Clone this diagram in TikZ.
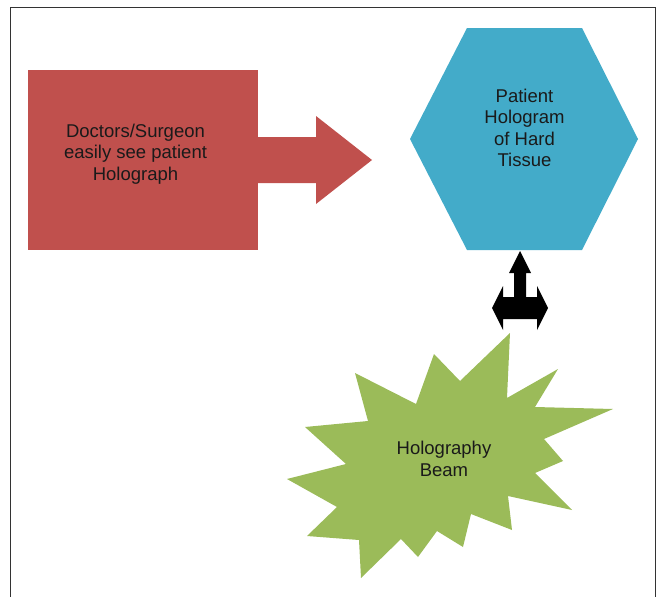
\documentclass[tikz,border=0pt]{standalone}
\usepackage{fontspec}
\setmainfont{Liberation Sans}
\definecolor{docred}{HTML}{C0504D}
\definecolor{holoblue}{HTML}{43ABC9}
\definecolor{beamgreen}{HTML}{9BBB59}
\definecolor{inktext}{HTML}{1A1A1A}
\begin{document}
\begin{tikzpicture}[x=1pt, y=-1pt, every node/.style={align=center, inner sep=0pt, text=inktext, font=\fontsize{18.5}{21.5}\selectfont}]
    \useasboundingbox (0,0) rectangle (657,597);
    \draw[line width=1pt, black!80] (10,597) -- (10,7) -- (655,7) -- (655,597);
    \fill[docred] (28,70) rectangle (258,250);
    \fill[holoblue] (467,28) -- (582,28) -- (638,139) -- (582,250) -- (467,250) -- (410,139) -- cycle;
    \fill[beamgreen] plot coordinates {(510,333) (507,398) (558,369) (535,407) (613,409) (544,439) (563,461) (535,473) (572,510) (508,496) (512,530) (471,514) (463,547) (437,531) (418,557) (401,539) (361,578) (359,540) (307,536) (337,507) (287,479) (346,464) (305,427) (368,421) (355,373) (416,404) (434,354) (460,381)} -- cycle;
    \node (doc) at (135.5,154) {Doctors/Surgeon\\easily see patient\\Holograph};
    \node (holo) at (524.5,128) {Patient\\Hologram\\of Hard\\Tissue};
    \node (beam) at (444,459) {Holography\\Beam};
    \coordinate (docR) at (257,160);
    \coordinate (holoL) at (372,160);
    \coordinate (holoB) at (520,251);
    \coordinate (beamT) at (520,308);
    % block arrows
    \fill[docred] (docR) ++(0,-23) -- ++(59,0) -- ++(0,-21) -- (holoL) -- ++(-56,44) -- ++(0,-21) -- ++(-59,0) -- cycle;
    \fill[black] (holoB) -- ++(11,22) -- ++(-5,0) -- ++(0,24) -- ++(11,0) -- ++(0,-11) -- ++(11,22) -- ++(-11,22) -- ++(0,-11) -- ++(-34,0) -- ++(0,11) -- ++(-11,-22) -- ++(11,-22) -- ++(0,11) -- ++(11,0) -- ++(0,-24) -- ++(-5,0) -- cycle;
\end{tikzpicture}
\end{document}
